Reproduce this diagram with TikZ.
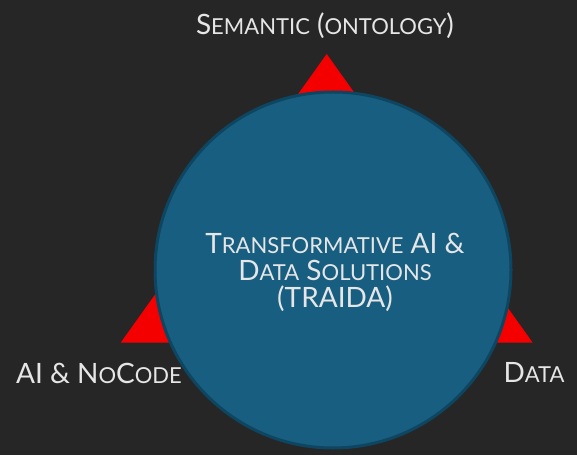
\documentclass[tikz,border=0pt]{standalone}
\usepackage{fontspec}
\setmainfont{Lato}
\newcommand\smL[1]{{\fontsize{22}{28}\selectfont #1}}
\definecolor{bgc}{HTML}{262626}
\definecolor{circfill}{HTML}{175E80}
\definecolor{circedge}{HTML}{0E4560}
\definecolor{trired}{HTML}{F50000}
\definecolor{txt}{HTML}{E6E6E6}
\begin{document}
\begin{tikzpicture}[x=1pt,y=1pt,
  lbl/.style={text=txt,inner sep=0pt,font=\fontsize{28}{28}\selectfont},
  ctr/.style={text=txt,inner sep=0pt,align=center,font=\fontsize{28}{27.5}\selectfont}]
\fill[bgc] (0,0) rectangle (577,455);
\useasboundingbox (0,0) rectangle (577,455);
\coordinate (tA) at (326.7,401);
\coordinate (tB) at (120.7,112.3);
\coordinate (tC) at (532.7,112.3);
\fill[trired] (tA) -- (tB) -- (tC) -- cycle;
\node[circle,minimum size=356pt,inner sep=0pt,fill=circfill,draw=circedge,line width=3pt] (hub) at (333,185) {};
\node[ctr,anchor=base] (core) at (335,147) {T\smL{RANSFORMATIVE} AI \&\\ D\smL{ATA} S\smL{OLUTIONS}\\ (TRAIDA)};
\node[lbl,anchor=base] (sem) at (325,420) {S\smL{EMANTIC} (\smL{ONTOLOGY})};
\node[lbl,anchor=base] (ai) at (99,72) {AI \& N\smL{O}C\smL{ODE}};
\node[lbl,anchor=base] (data) at (534,73) {D\smL{ATA}};
\end{tikzpicture}
\end{document}
